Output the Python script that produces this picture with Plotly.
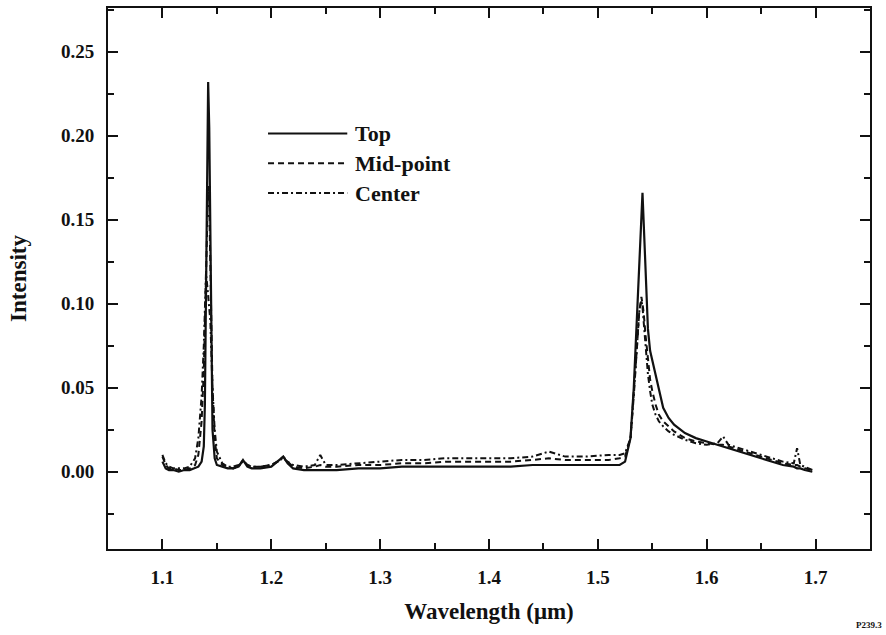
import plotly.graph_objects as go

# Emission spectra measured at three positions (intensity vs wavelength in µm)
wavelength = [
    1.100, 1.103, 1.106, 1.110, 1.115, 1.120, 1.125, 1.130, 1.133, 1.136,
    1.138, 1.139, 1.140, 1.141, 1.142, 1.143, 1.144, 1.145, 1.146, 1.148,
    1.150, 1.155, 1.160, 1.165, 1.170, 1.174, 1.178, 1.182, 1.190, 1.200,
    1.206, 1.211, 1.215, 1.220, 1.230, 1.240, 1.245, 1.250, 1.260, 1.280,
    1.300, 1.320, 1.340, 1.360, 1.380, 1.400, 1.420, 1.440, 1.455, 1.470,
    1.490, 1.510, 1.520, 1.525, 1.530, 1.533, 1.536, 1.538, 1.540, 1.541,
    1.542, 1.544, 1.546, 1.548, 1.550, 1.553, 1.556, 1.560, 1.565, 1.570,
    1.580, 1.590, 1.600, 1.610, 1.615, 1.620, 1.630, 1.640, 1.650, 1.660,
    1.670, 1.680, 1.683, 1.686, 1.690, 1.697,
]

top = [
    0.006, 0.002, 0.001, 0.001, 0.000, 0.001, 0.001, 0.002, 0.003, 0.006,
    0.015, 0.040, 0.100, 0.170, 0.232, 0.205, 0.130, 0.060, 0.025, 0.008,
    0.004, 0.003, 0.002, 0.002, 0.003, 0.007, 0.003, 0.002, 0.002, 0.003,
    0.006, 0.009, 0.005, 0.002, 0.001, 0.001, 0.001, 0.001, 0.001, 0.002,
    0.002, 0.003, 0.003, 0.003, 0.003, 0.003, 0.003, 0.004, 0.004, 0.004,
    0.004, 0.004, 0.004, 0.006, 0.020, 0.050, 0.095, 0.130, 0.160, 0.166,
    0.150, 0.115, 0.085, 0.072, 0.066, 0.058, 0.048, 0.038, 0.032, 0.028,
    0.023, 0.020, 0.018, 0.016, 0.015, 0.014, 0.012, 0.010, 0.008, 0.006,
    0.004, 0.003, 0.002, 0.002, 0.001, 0.000,
]

mid_point = [
    0.009, 0.004, 0.002, 0.002, 0.001, 0.001, 0.002, 0.004, 0.010, 0.030,
    0.060, 0.090, 0.120, 0.150, 0.170, 0.160, 0.120, 0.080, 0.050, 0.020,
    0.008, 0.004, 0.003, 0.002, 0.003, 0.007, 0.004, 0.003, 0.003, 0.004,
    0.006, 0.009, 0.006, 0.003, 0.002, 0.003, 0.004, 0.003, 0.003, 0.004,
    0.004, 0.005, 0.005, 0.006, 0.006, 0.006, 0.006, 0.007, 0.008, 0.007,
    0.007, 0.007, 0.008, 0.009, 0.020, 0.045, 0.075, 0.095, 0.104, 0.100,
    0.095, 0.080, 0.065, 0.055, 0.048, 0.040, 0.034, 0.030, 0.027, 0.024,
    0.020, 0.018, 0.017, 0.016, 0.016, 0.015, 0.013, 0.011, 0.009, 0.007,
    0.005, 0.004, 0.004, 0.003, 0.002, 0.001,
]

center = [
    0.010, 0.005, 0.003, 0.002, 0.002, 0.002, 0.003, 0.008, 0.020, 0.045,
    0.075, 0.100, 0.118, 0.112, 0.104, 0.100, 0.090, 0.070, 0.050, 0.025,
    0.012, 0.005, 0.003, 0.003, 0.004, 0.006, 0.004, 0.003, 0.003, 0.004,
    0.006, 0.008, 0.006, 0.004, 0.003, 0.004, 0.010, 0.004, 0.004, 0.005,
    0.006, 0.007, 0.007, 0.008, 0.008, 0.008, 0.008, 0.009, 0.012, 0.009,
    0.009, 0.010, 0.010, 0.011, 0.020, 0.045, 0.075, 0.095, 0.102, 0.098,
    0.090, 0.072, 0.058, 0.048, 0.040, 0.034, 0.030, 0.027, 0.024, 0.022,
    0.019, 0.017, 0.016, 0.017, 0.021, 0.016, 0.014, 0.012, 0.010, 0.008,
    0.006, 0.005, 0.014, 0.004, 0.003, 0.001,
]

series_names = ["Top", "Mid-point", "Center"]
series_dash = ["solid", "6px,4px", "6px,3px,2px,3px"]
series_values = [top, mid_point, center]

x_ticks = [1.1, 1.2, 1.3, 1.4, 1.5, 1.6, 1.7]
y_ticks = [0.00, 0.05, 0.10, 0.15, 0.20, 0.25]

SERIF = "Liberation Serif, Times New Roman, serif"
INK = "#111111"

fig = go.Figure()
for name, dash, values in zip(series_names, series_dash, series_values):
    fig.add_trace(go.Scatter(
        x=wavelength, y=values, mode="lines", name=name,
        line=dict(color=INK, width=2.2 if dash == "solid" else 2.0, dash=dash),
        showlegend=False,
    ))

# Hand-placed key in the upper-left of the plot area
key_x0, key_x1, key_text_x = 0.21, 0.314, 0.322
key_rows = [0.768, 0.713, 0.658]
for name, dash, ky in zip(series_names, series_dash, key_rows):
    fig.add_shape(type="line", xref="paper", yref="paper",
                  x0=key_x0, x1=key_x1, y0=ky, y1=ky,
                  line=dict(color=INK, width=2.0, dash=dash))
    fig.add_annotation(xref="paper", yref="paper", x=key_text_x, y=ky,
                       text="<b>%s</b>" % name, showarrow=False,
                       xanchor="left", yanchor="middle",
                       font=dict(family=SERIF, size=22, color=INK))

fig.add_annotation(xref="paper", yref="paper", x=1.018, y=-0.128,
                   text="<b>P239.3</b>", showarrow=False,
                   xanchor="right", yanchor="top",
                   font=dict(family=SERIF, size=9, color=INK))

axis_common = dict(
    showline=True, linecolor=INK, linewidth=2, mirror="ticks",
    ticks="inside", ticklen=10, tickwidth=2, tickcolor=INK,
    showgrid=False, zeroline=False,
    tickfont=dict(family=SERIF, size=19, color=INK),
)

fig.update_xaxes(
    range=[1.05, 1.75], tickvals=x_ticks, ticktext=["<b>%.1f</b>" % v for v in x_ticks],
    minor=dict(dtick=0.05, tick0=1.05, ticks="inside", ticklen=6, tickwidth=1.5, tickcolor=INK),
    ticklabelstandoff=10,
    title=dict(text="<b>Wavelength (μm)</b>", standoff=16,
               font=dict(family=SERIF, size=23, color=INK)),
    **axis_common,
)
fig.update_yaxes(
    range=[-0.046, 0.276], tickvals=y_ticks, ticktext=["<b>%.2f</b>" % v for v in y_ticks],
    minor=dict(dtick=0.025, tick0=0.0, ticks="inside", ticklen=6, tickwidth=1.5, tickcolor=INK),
    ticklabelstandoff=8,
    title=dict(text="<b>Intensity</b>", standoff=28,
               font=dict(family=SERIF, size=23, color=INK)),
    **axis_common,
)

fig.update_layout(
    width=886, height=635,
    margin=dict(l=108, r=16, t=6, b=86),
    paper_bgcolor="white", plot_bgcolor="white",
    showlegend=False,
)

fig.write_html("out.html")
